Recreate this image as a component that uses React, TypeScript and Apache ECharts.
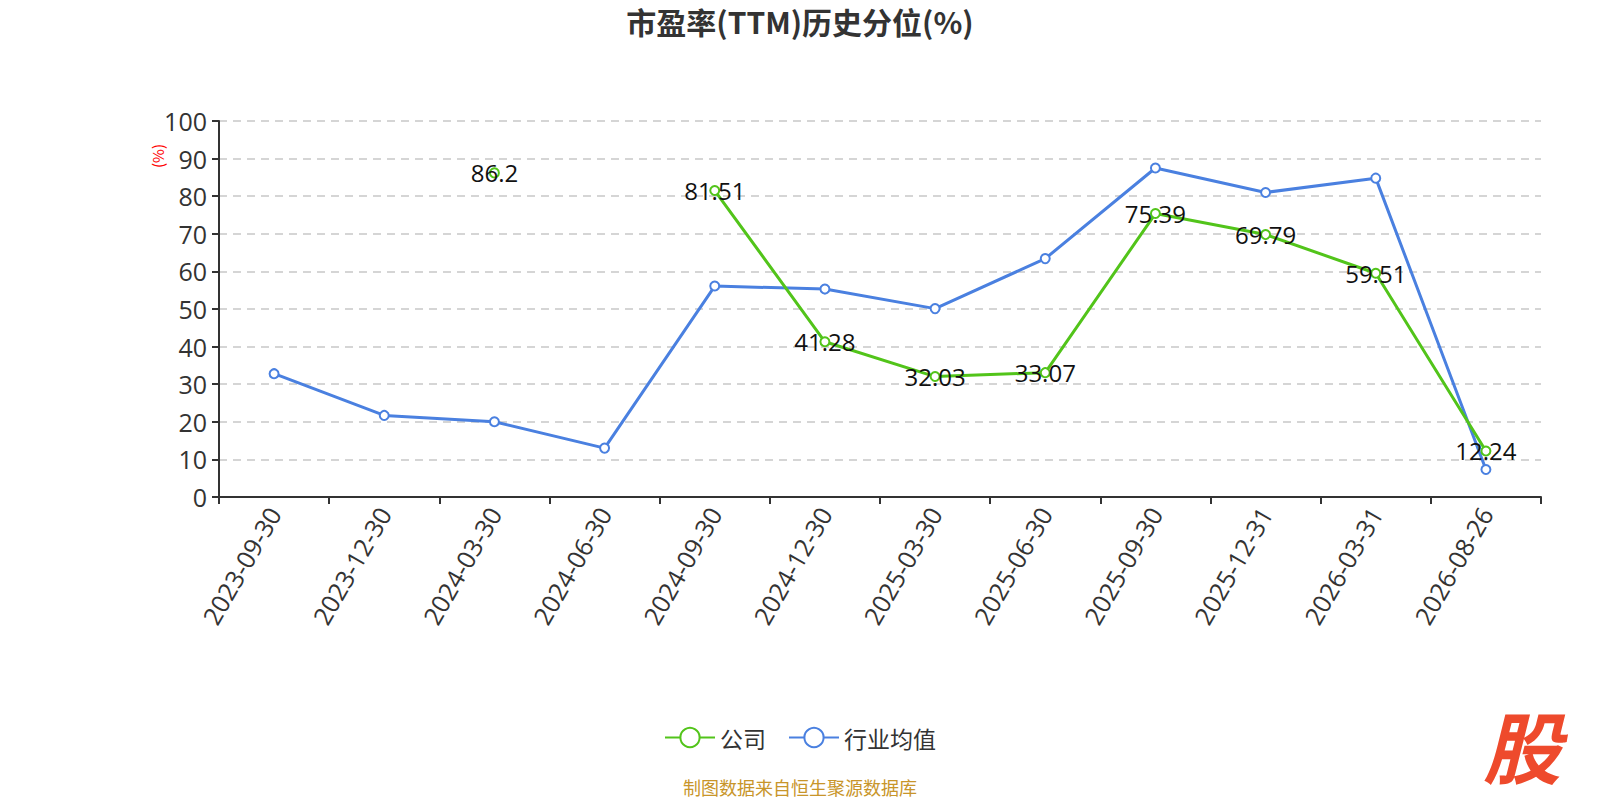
import React, { useEffect, useRef } from "react";
import * as echarts from "echarts";

const categories = [
  "2023-09-30", "2023-12-30", "2024-03-30", "2024-06-30", "2024-09-30", "2024-12-30",
  "2025-03-30", "2025-06-30", "2025-09-30", "2025-12-31", "2026-03-31", "2026-08-26",
];
const companyValues: (number | null)[] = [null, null, 86.2, null, 81.51, 41.28, 32.03, 33.07, 75.39, 69.79, 59.51, 12.24];
const industryValues: number[] = [32.8, 21.7, 20.0, 13.0, 56.1, 55.3, 50.1, 63.4, 87.5, 81.0, 84.8, 7.3];

const FONT = "'Open Sans', 'Noto Sans CJK SC', sans-serif";
const CJK = "'Noto Sans CJK SC', sans-serif";

export default function App() {
  const ref = useRef<HTMLDivElement>(null);
  useEffect(() => {
    if (!ref.current) return;
    const chart = echarts.init(ref.current, null, { renderer: "svg" });
    chart.setOption({
      animation: false,
      textStyle: { fontFamily: FONT },
      title: {
        text: "市盈率(TTM)历史分位(%)",
        left: "center",
        top: 1,
        textStyle: { fontSize: 30, fontWeight: "bold", color: "#333", fontFamily: CJK },
      },
      grid: { left: 219, right: 59, top: 121, bottom: 303, outerBoundsMode: "none" },
      legend: {
        top: 721,
        left: "center",
        itemWidth: 50,
        itemHeight: 24,
        itemGap: 22,
        textStyle: { fontSize: 23, color: "#333", fontFamily: CJK },
        data: ["公司", "行业均值"],
      },
      xAxis: {
        type: "category",
        data: categories,
        boundaryGap: true,
        axisLine: { lineStyle: { color: "#333", width: 2 } },
        axisTick: { show: true, length: 7, lineStyle: { color: "#333", width: 2 } },
        axisLabel: { rotate: 60, fontSize: 25, color: "#333", margin: 12, interval: 0 },
      },
      yAxis: {
        type: "value",
        min: 0,
        max: 100,
        interval: 10,
        axisLine: { show: true, lineStyle: { color: "#333", width: 2 } },
        axisTick: { show: true, length: 7, lineStyle: { color: "#333", width: 2 } },
        axisLabel: { fontSize: 25, color: "#333", margin: 12 },
        splitLine: { show: true, lineStyle: { type: [8, 6], color: "#c8c8c8", width: 1.5 } },
      },
      graphic: [
        {
          type: "text",
          x: 157,
          y: 156,
          rotation: Math.PI / 2,
          style: { text: "(%)", fill: "#ff0000", fontSize: 15, fontFamily: CJK, textAlign: "center", textVerticalAlign: "middle" },
        },
        {
          type: "text",
          x: 800,
          y: 787,
          style: { text: "制图数据来自恒生聚源数据库", fill: "#c8952a", fontSize: 18, fontFamily: CJK, textAlign: "center", textVerticalAlign: "middle" },
        },
        {
          type: "text",
          x: 1522,
          y: 744,
          style: {
            text: "股",
            fill: "#ee4a2c",
            fontSize: 78,
            fontWeight: "bold",
            fontStyle: "italic",
            fontFamily: CJK,
            textAlign: "center",
            textVerticalAlign: "middle",
          },
        },
      ],
      series: [
        {
          name: "公司",
          type: "line",
          data: companyValues,
          connectNulls: false,
          symbol: "emptyCircle",
          symbolSize: 9,
          showAllSymbol: true,
          itemStyle: { color: "#52c41a", borderWidth: 2 },
          lineStyle: { color: "#52c41a", width: 3 },
          label: { show: true, position: "inside", fontSize: 24, color: "#111" },
          z: 3,
        },
        {
          name: "行业均值",
          type: "line",
          data: industryValues,
          symbol: "emptyCircle",
          symbolSize: 9,
          itemStyle: { color: "#4a80e0", borderWidth: 2 },
          lineStyle: { color: "#4a80e0", width: 3 },
          label: { show: false },
          z: 2,
        },
      ],
    });
    return () => chart.dispose();
  }, []);
  return (
    <div
      ref={ref}
      style={{ position: "absolute", left: 0, top: 0, width: 1600, height: 800 }}
    />
  );
}
